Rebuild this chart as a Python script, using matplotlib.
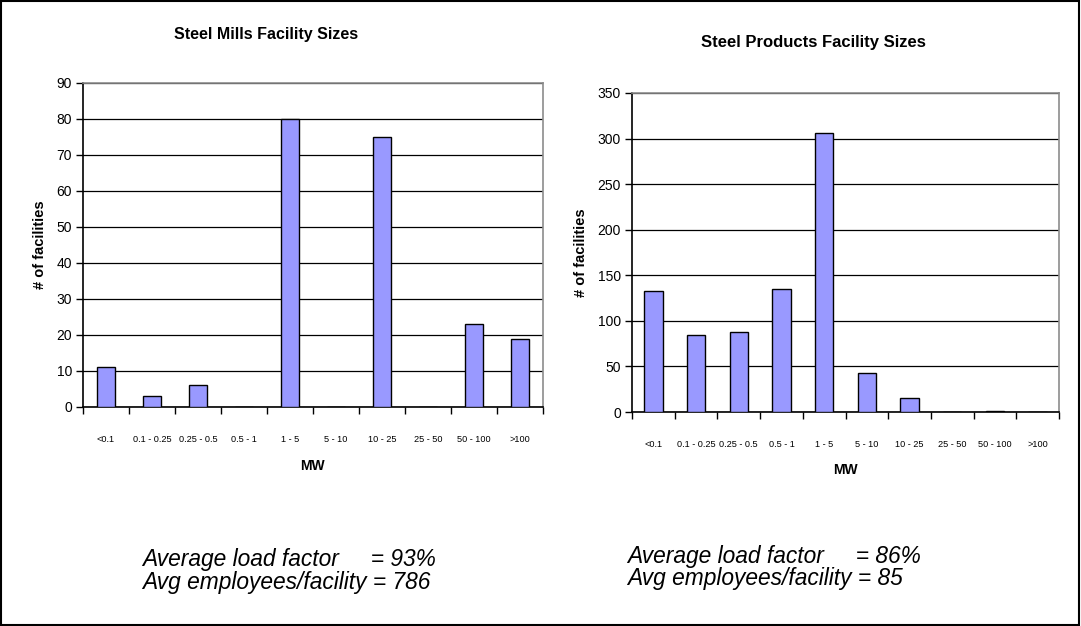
import matplotlib
matplotlib.use("Agg")
import matplotlib.pyplot as plt
import numpy as np
from matplotlib.patches import Rectangle

plt.rcParams['font.family'] = ['Liberation Sans', 'DejaVu Sans']

size_bins = ["<0.1", "0.1 - 0.25", "0.25 - 0.5", "0.5 - 1", "1 - 5",
             "5 - 10", "10 - 25", "25 - 50", "50 - 100", ">100"]
mills_counts = [11, 3, 6, 0, 80, 0, 75, 0, 23, 19]
products_counts = [133, 84, 88, 135, 306, 43, 15, 0, 1, 0]

mills_title = "Steel Mills Facility Sizes"
products_title = "Steel Products Facility Sizes"
mills_notes = ["Average load factor     = 93%", "Avg employees/facility = 786"]
products_notes = ["Average load factor     = 86%", "Avg employees/facility = 85"]

BAR_COLOR = "#9999FF"
W, H = 1081, 626

fig = plt.figure(figsize=(W / 100, H / 100), dpi=100)
fig.patch.set_facecolor("white")

# outer frame
fig.add_artist(Rectangle((0.001, 0.001), 0.997, 0.997, transform=fig.transFigure,
                         fill=False, edgecolor="black", linewidth=1.5))


def draw_panel(ax, counts, ymax, ystep, bar_w, title, title_xy, title_size,
               xlabel_xy):
    x = np.arange(len(size_bins))
    ax.bar(x, counts, width=bar_w, color=BAR_COLOR, edgecolor="black",
           linewidth=1.0, zorder=3)
    ax.set_xlim(-0.5, len(size_bins) - 0.5)
    ax.set_ylim(0, ymax)
    ax.set_yticks(np.arange(0, ymax + 1, ystep))
    ax.yaxis.grid(True, color="black", linewidth=0.9, zorder=0)
    ax.set_axisbelow(True)

    # category boundaries carry the tick marks, centers carry the labels
    ax.set_xticks(np.arange(-0.5, len(size_bins), 1.0))
    ax.set_xticklabels([])
    ax.set_xticks(x, minor=True)
    ax.set_xticklabels(size_bins, minor=True, fontsize=6.6)
    ax.tick_params(axis="x", which="major", direction="out", length=5,
                   width=1, color="black")
    ax.tick_params(axis="x", which="minor", length=0, pad=20)
    ax.tick_params(axis="y", direction="out", length=5, width=1,
                   labelsize=10, pad=3)

    for s in ("left", "bottom"):
        ax.spines[s].set_color("black")
        ax.spines[s].set_linewidth(1.2)
    for s in ("top", "right"):
        ax.spines[s].set_color("#8c8c8c")
        ax.spines[s].set_linewidth(1.2)

    ax.set_ylabel("# of facilities", fontsize=10.5, fontweight="bold",
                  labelpad=7)
    fig.text(title_xy[0] / W, 1 - title_xy[1] / H, title, ha="center",
             va="center", fontsize=title_size, fontweight="bold")
    fig.text(xlabel_xy[0] / W, 1 - xlabel_xy[1] / H, "MW", ha="center",
             va="center", fontsize=10, fontweight="bold")


ax1 = fig.add_axes([83 / W, 1 - 407 / H, (543 - 83) / W, (407 - 83) / H])
draw_panel(ax1, mills_counts, 90, 10, 0.40, mills_title, (266, 35), 11.5,
           (312, 466))

ax2 = fig.add_axes([632 / W, 1 - 412 / H, (1059 - 632) / W, (412 - 93) / H])
draw_panel(ax2, products_counts, 350, 50, 0.43, products_title, (813, 43), 12,
           (845, 470))

for i, line in enumerate(mills_notes):
    fig.text(142 / W, 1 - (566 + 22.5 * i) / H, line, ha="left",
             va="baseline", fontsize=16.4, style="italic")
for i, line in enumerate(products_notes):
    fig.text(627 / W, 1 - (563 + 22.5 * i) / H, line, ha="left",
             va="baseline", fontsize=16.4, style="italic")

fig.savefig("out.png", dpi=100, facecolor="white")
